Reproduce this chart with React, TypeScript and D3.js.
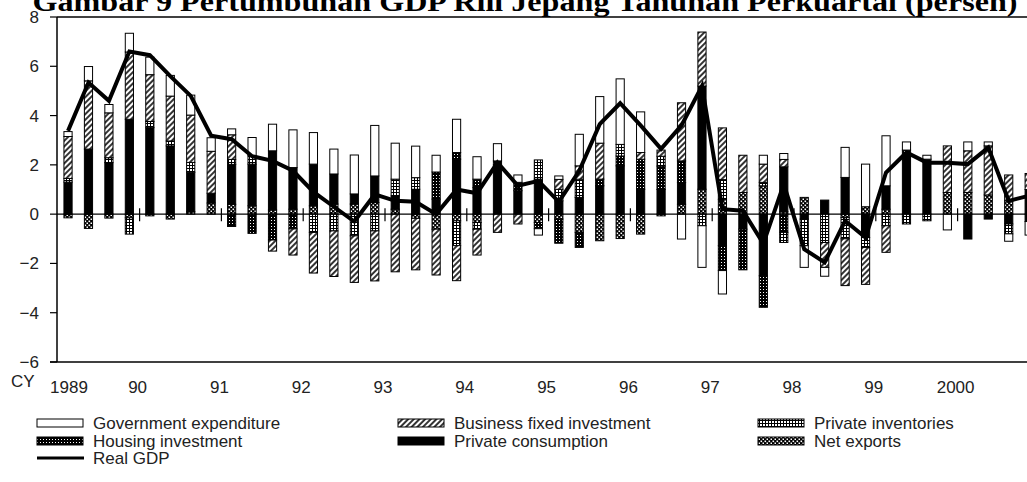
import * as d3 from "d3";

// quarterly contributions to real GDP growth (annualised, %), CY1989Q1 - CY2000Q4
const years = ["1989", "90", "91", "92", "93", "94", "95", "96", "97", "98", "99", "2000"];
const quarterNames = ["Q1", "Q2", "Q3", "Q4"];
const quarters = years.flatMap((yr) => quarterNames.map((q) => `${yr}${q}`));
const yTicks = [-6, -4, -2, 0, 2, 4, 6, 8];

const government = [
  0.2, 0.58, 0.34, 0.76, 0.71, 0.84, 0.81, 0.55, 0.24, 0.74, 1.08, 1.53,
  1.28, 1.01, 1.58, 2.05, 1.46, 1.28, 0.68, 1.35, 0.91, 0.7, 0.3, -0.26,
  0.14, 1.28, 1.89, 2.66, 1.65, 0, -1.01, -1.69, -0.95, 0, 0.36, 0.24,
  -0.88, -0.36, 1.22, 1.73, 2.03, 0.33, 0.16, -0.64, 0.36, 0.16, -0.3, -0.55,
];
const businessFixed = [
  1.7, 2.77, 1.82, 2.73, 1.9, 1.82, 1.92, 1.7, 1.0, 0, -0.45, -1.06,
  -1.65, -1.85, -1.89, -2.03, -2.34, -2.09, -1.86, -1.42, -1.05, -0.74, -0.4, 0,
  0.4, 0.54, 1.46, 0, 0.27, 0.25, 2.36, 2.19, 2.1, 1.51, 0.74, 0.3,
  0, -1.01, -1.9, -1.5, -1.08, 0, 0, 1.89, 1.69, 1.99, 1.05, 0.65,
];
const inventories = [
  0.15, 0, 0.2, -0.66, 0.25, 0.2, 0.4, 0, 0.2, 0.34, 0, 0,
  -0.74, -0.68, -0.88, -0.68, 0.68, 0.47, 0, -1.01, -0.27, 0, 0, 0.78,
  0.47, 0.74, 0, 0.47, 0, 0.4, 0, -0.47, 0.8, 0, 0.14, -0.41,
  -1.08, -1.15, -0.86, -0.4, -0.47, -0.4, -0.27, 0, 0, 0, -0.4, 0,
];
const housing = [
  0, 0, 0, 0, 0, 0, 0, 0, -0.5, -0.78, -1.05, -0.6,
  0, 0, 0, 0, 0, 0, 1.1, 0.27, 0.34, 0.16, 0.34, -0.25,
  -0.98, -0.61, 0.27, 0.4, 1.22, 0.95, 0.88, 0, -1.01, -1.65, -1.28, -0.74,
  0, 0, 0, 0, 0, 0.2, 0, 0, 0, 0, 0, -0.3,
];
const consumption = [
  1.3, 2.64, 2.09, 3.85, 3.51, 2.77, 1.6, 0.4, 1.62, 1.69, 2.4, 1.69,
  1.69, 1.22, 0.41, 1.08, 0.54, 1.01, 0.61, 2.23, 1.08, 2.0, 0.95, 1.42,
  0.54, 0.68, 1.15, 1.96, 1.01, 1.0, 0.88, 4.19, -1.28, -0.61, -2.5, 1.82,
  -0.2, 0.57, 1.49, -0.95, 0.95, 2.4, 2.23, 0, -1.01, -0.2, -0.4, 1.0,
];
const netExports = [
  -0.15, -0.58, -0.16, -0.15, -0.07, -0.2, 0.1, 0.45, 0.4, 0.34, 0.17, 0.2,
  0.34, 0.41, 0.41, 0.47, 0.2, -0.17, -0.61, -0.27, -0.34, 0, 0, -0.34,
  -0.2, -0.74, -1.08, -0.99, -0.81, -0.07, 0.4, 1.01, 0.6, 0.88, 1.15, 0.1,
  0.68, 0, -0.14, 0.3, 0.2, 0, 0, 0.88, 0.88, 0.78, 0.54, 0,
];
const realGdp = [
  3.38, 5.34, 4.6, 6.6, 6.45, 5.6, 4.8, 3.18, 3.04, 2.35, 2.16, 1.76,
  0.9, 0.3, -0.3, 0.8, 0.54, 0.5, 0.0, 1.0, 0.85, 2.09, 1.15, 1.35,
  0.5, 1.76, 3.65, 4.5, 3.6, 2.65, 3.6, 5.2, 0.2, 0.14, -1.2, 1.22,
  -1.42, -1.96, -0.27, -0.95, 1.69, 2.5, 2.09, 2.09, 2.03, 2.7, 0.54, 0.75,
];

type Row = { q: string; [k: string]: number | string };

// stacking order from the zero line outwards
const keys = ["netExports", "consumption", "housing", "inventories", "business", "government"];
const fills: Record<string, string> = {
  government: "#fff",
  business: "url(#hatch)",
  inventories: "url(#inv)",
  housing: "url(#housing)",
  consumption: "#000",
  netExports: "url(#netx)",
};

const rows: Row[] = quarters.map((q, i) => ({
  q,
  government: government[i],
  business: businessFixed[i],
  inventories: inventories[i],
  housing: housing[i],
  consumption: consumption[i],
  netExports: netExports[i],
}));

const W = 1027;
const H = 482;
const left = 57;
const top = 17;
const bottom = 362;

export default function App() {
  const step = 20.45;
  const x = d3
    .scaleBand()
    .domain(quarters)
    .range([57.8, 57.8 + step * quarters.length])
    .paddingInner(0.6)
    .paddingOuter(0.3);
  const y = d3.scaleLinear().domain([-6, 8]).range([bottom, top]);
  const bw = x.bandwidth();
  const cx = (q: string) => (x(q) ?? 0) + bw / 2;

  const series = d3
    .stack<Row>()
    .keys(keys)
    .value((d, k) => d[k] as number)
    .offset(d3.stackOffsetDiverging)(rows);

  const gdpLine = d3
    .line<number>()
    .x((_, i) => cx(quarters[i]))
    .y((d) => y(d));

  const boundaries = years.slice(1).map((_, k) => cx(quarters[4 * (k + 1)]) - step / 2);
  const labelX = years.map((_, k) => (k === 0 ? cx(quarters[0]) + 1 : boundaries[k - 1] - 2));

  const font = "Liberation Sans, Arial, sans-serif";

  const legend = [
    { label: "Government expenditure", key: "government", lx: 37, ly: 423 },
    { label: "Business fixed investment", key: "business", lx: 398, ly: 423 },
    { label: "Private inventories", key: "inventories", lx: 758, ly: 423 },
    { label: "Housing investment", key: "housing", lx: 37, ly: 441 },
    { label: "Private consumption", key: "consumption", lx: 398, ly: 441 },
    { label: "Net exports", key: "netExports", lx: 758, ly: 441 },
  ];

  return (
    <svg
      width={W}
      height={H}
      style={{ position: "absolute", left: 0, top: 0, display: "block", background: "#fff" }}
      fontFamily={font}
    >
      <defs>
        <pattern id="hatch" patternUnits="userSpaceOnUse" width={4} height={4} patternTransform="rotate(45)">
          <rect width={4} height={4} fill="#fff" />
          <line x1={1} y1={0} x2={1} y2={4} stroke="#000" strokeWidth={1.6} />
        </pattern>
        <pattern id="inv" patternUnits="userSpaceOnUse" width={3} height={3}>
          <rect width={3} height={3} fill="#fff" />
          <rect width={3} height={1} fill="#000" />
          <rect width={1} height={3} fill="#000" />
        </pattern>
        <pattern id="housing" patternUnits="userSpaceOnUse" width={3} height={3}>
          <rect width={3} height={3} fill="#000" />
          <rect x={1} y={1} width={1} height={1} fill="#fff" />
        </pattern>
        <pattern id="netx" patternUnits="userSpaceOnUse" width={4} height={4}>
          <rect width={4} height={4} fill="#000" />
          <rect x={0.5} y={0.5} width={1.6} height={1.6} fill="#fff" />
          <rect x={2.5} y={2.5} width={1.6} height={1.6} fill="#fff" />
        </pattern>
      </defs>

      {/* title, cut off at the top */}
      <text
        x={525}
        y={11}
        textAnchor="middle"
        fontFamily="Liberation Serif, Times New Roman, serif"
        fontWeight="bold"
        fontSize={28}
        textLength={985}
        lengthAdjust="spacingAndGlyphs"
      >
        Gambar 9 Pertumbuhan GDP Riil Jepang Tahunan Perkuartal (persen)
      </text>

      {/* frame */}
      <line x1={left} x2={W} y1={top} y2={top} stroke="#000" strokeWidth={1.5} />
      <line x1={left} x2={left} y1={top} y2={bottom} stroke="#000" strokeWidth={1.5} />
      <line x1={left - 7} x2={W} y1={bottom} y2={bottom} stroke="#000" strokeWidth={1.5} />

      {/* y ticks */}
      {yTicks.map((t) => (
        <g key={t}>
          <line x1={left - 7} x2={left} y1={y(t)} y2={y(t)} stroke="#000" strokeWidth={1.2} />
          <text x={39} y={y(t)} dy="0.35em" textAnchor="end" fontSize={17} fill="#222">
            {t < 0 ? `\u2212${Math.abs(t)}` : t}
          </text>
        </g>
      ))}

      {/* bars */}
      {series.map((s) => (
        <g key={s.key}>
          {s.map((d, i) =>
            d[1] - d[0] === 0 ? null : (
              <rect
                key={i}
                x={x(quarters[i])}
                y={y(Math.max(d[0], d[1]))}
                width={bw}
                height={Math.abs(y(d[0]) - y(d[1]))}
                fill={fills[s.key]}
                stroke="#000"
                strokeWidth={1}
              />
            )
          )}
        </g>
      ))}

      {/* zero line and year ticks */}
      <line x1={left} x2={W} y1={y(0)} y2={y(0)} stroke="#000" strokeWidth={1.3} />
      {boundaries.map((bx, k) => (
        <line key={k} x1={bx} x2={bx} y1={y(0) - 6} y2={y(0) + 7} stroke="#000" strokeWidth={1.2} />
      ))}

      {/* real GDP */}
      <path d={gdpLine(realGdp) ?? ""} fill="none" stroke="#000" strokeWidth={4} />

      {/* x labels */}
      <text x={11} y={387} fontSize={17} fill="#222">CY</text>
      {years.map((yr, k) => (
        <text key={yr} x={labelX[k]} y={393} textAnchor="middle" fontSize={17} fill="#222">
          {yr}
        </text>
      ))}

      {/* legend */}
      {legend.map((l) => (
        <g key={l.key}>
          <rect x={l.lx} y={l.ly - 4} width={46} height={8} fill={fills[l.key]} stroke="#000" strokeWidth={1} />
          <text x={l.lx + 56} y={l.ly} dy="0.35em" fontSize={17} fill="#222">
            {l.label}
          </text>
        </g>
      ))}
      <line x1={37} x2={84} y1={458} y2={458} stroke="#000" strokeWidth={3} />
      <text x={93} y={458} dy="0.35em" fontSize={17} fill="#222">Real GDP</text>
    </svg>
  );
}
